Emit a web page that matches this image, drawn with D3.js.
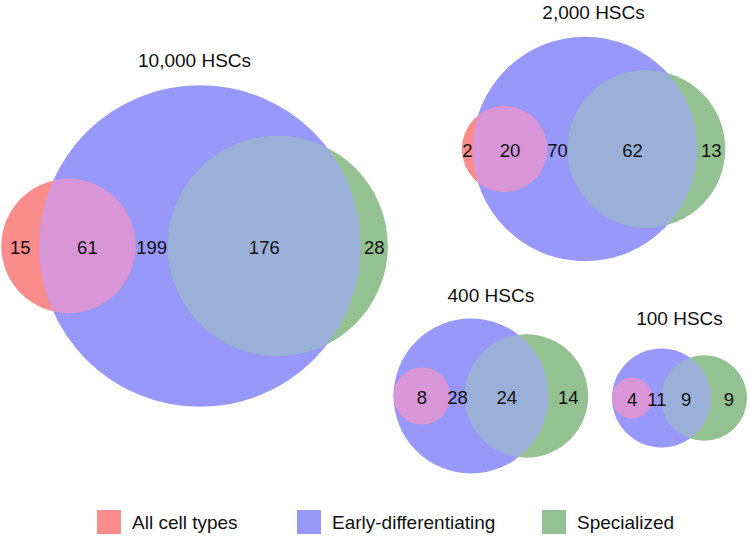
<!DOCTYPE html>
<html>
<head>
<meta charset="utf-8">
<script src="https://cdn.jsdelivr.net/npm/d3@7"></script>
<style>
  html, body { margin: 0; padding: 0; background: #fff; }
  svg { display: block; }
  text { font-family: "Liberation Sans", Arial, Helvetica, sans-serif; fill: #111; }
</style>
</head>
<body>
<svg id="chart" width="750" height="538"></svg>
<script>
// ---- data ----
const panels     = ["10,000 HSCs", "2,000 HSCs", "400 HSCs", "100 HSCs"];
const allOnly    = [15, 2, 0, 0];      // All cell types only
const allEarly   = [61, 20, 8, 4];     // All ∩ Early
const earlyOnly  = [199, 70, 28, 11];  // Early only
const earlySpec  = [176, 62, 24, 9];   // Early ∩ Specialized
const specOnly   = [28, 13, 14, 9];    // Specialized only
const setNames   = ["All cell types", "Early-differentiating", "Specialized"];

// ---- layout (positions / sizes / styles) ----
const layout = [
  { cx: 200,   cy: 246, k: 7.7,  titleY: 60,  redAdj: 8, greenAdj: -6 },
  { cx: 585,   cy: 149, k: 9.1,  titleY: 12,  redAdj: 0, greenAdj: 0 },
  { cx: 471,   cy: 396, k: 10.0, titleY: 295, redAdj: 0, greenAdj: 0 },
  { cx: 661.5, cy: 398, k: 10.1, titleY: 318, redAdj: 0, greenAdj: 0 }
];
const colors = { red: "#fa8c8c", blue: "#9898fa", green: "#94c191",
                 redBlue: "#d896d8", greenBlue: "#9ab0d8" };
const legendX = [97, 297, 542];

const svg = d3.select("#chart");
svg.append("rect").attr("width", 750).attr("height", 538).attr("fill", "#fff");
const defs = svg.append("defs");

function interArea(r1, r2, d) {
  if (d >= r1 + r2) return 0;
  if (d <= Math.abs(r1 - r2)) return Math.PI * Math.min(r1, r2) ** 2;
  const a = r1 * r1 * Math.acos((d * d + r1 * r1 - r2 * r2) / (2 * d * r1));
  const b = r2 * r2 * Math.acos((d * d + r2 * r2 - r1 * r1) / (2 * d * r2));
  const c = 0.5 * Math.sqrt((-d + r1 + r2) * (d + r1 - r2) * (d - r1 + r2) * (d + r1 + r2));
  return a + b - c;
}
function solveDist(r1, r2, target) {
  let lo = Math.abs(r1 - r2), hi = r1 + r2;
  if (target >= Math.PI * Math.min(r1, r2) ** 2 - 1e-9) return lo;
  for (let i = 0; i < 80; i++) {
    const m = (lo + hi) / 2;
    if (interArea(r1, r2, m) > target) lo = m; else hi = m;
  }
  return (lo + hi) / 2;
}

panels.forEach((title, i) => {
  const L = layout[i];
  const nRed = allOnly[i] + allEarly[i];
  const nBlue = allEarly[i] + earlyOnly[i] + earlySpec[i];
  const nGreen = earlySpec[i] + specOnly[i];
  const r = d3.scaleSqrt().domain([0, 100]).range([0, L.k * 10]);
  const rr = r(nRed), rb = r(nBlue), rg = r(nGreen);
  const area = n => Math.PI * r(n) ** 2;
  const dRed = solveDist(rb, rr, area(allEarly[i])) + L.redAdj;
  const dGreen = solveDist(rb, rg, area(earlySpec[i])) + L.greenAdj;
  const xb = L.cx, xr = L.cx - dRed, xg = L.cx + dGreen, cy = L.cy;

  const g = svg.append("g");
  const clipId = "clipBlue" + i;
  defs.append("clipPath").attr("id", clipId)
    .append("circle").attr("cx", xb).attr("cy", cy).attr("r", rb);

  g.append("circle").attr("cx", xb).attr("cy", cy).attr("r", rb).attr("fill", colors.blue);
  g.append("circle").attr("cx", xr).attr("cy", cy).attr("r", rr).attr("fill", colors.red);
  g.append("circle").attr("cx", xg).attr("cy", cy).attr("r", rg).attr("fill", colors.green);
  g.append("circle").attr("cx", xr).attr("cy", cy).attr("r", rr)
    .attr("fill", colors.redBlue).attr("clip-path", `url(#${clipId})`);
  g.append("circle").attr("cx", xg).attr("cy", cy).attr("r", rg)
    .attr("fill", colors.greenBlue).attr("clip-path", `url(#${clipId})`);

  const redL = xr - rr, redR = xr + rr, blueL = xb - rb, blueR = xb + rb;
  const greenL = xg - rg, greenR = xg + rg;
  const labels = [
    { v: allOnly[i],   x: (redL + blueL) / 2 },
    { v: allEarly[i],  x: (Math.max(redL, blueL) + Math.min(redR, blueR)) / 2 },
    { v: earlyOnly[i], x: (redR + greenL) / 2 },
    { v: earlySpec[i], x: (greenL + blueR) / 2 },
    { v: specOnly[i],  x: (blueR + greenR) / 2 }
  ].filter(d => d.v > 0);

  g.selectAll("text.num").data(labels).join("text")
    .attr("class", "num")
    .attr("x", d => d.x).attr("y", cy + 1.5)
    .attr("text-anchor", "middle").attr("dominant-baseline", "central")
    .attr("font-size", 18.5)
    .text(d => d.v);

  const left = Math.min(redL, blueL), right = Math.max(blueR, greenR);
  g.append("text")
    .attr("x", (left + right) / 2).attr("y", L.titleY)
    .attr("text-anchor", "middle").attr("dominant-baseline", "central")
    .attr("font-size", 19)
    .text(title);
});

// ---- legend ----
const legColors = [colors.red, colors.blue, colors.green];
const leg = svg.append("g");
setNames.forEach((name, j) => {
  leg.append("rect").attr("x", legendX[j]).attr("y", 510).attr("width", 24).attr("height", 24)
    .attr("fill", legColors[j]);
  leg.append("text").attr("x", legendX[j] + 35).attr("y", 522)
    .attr("dominant-baseline", "central").attr("font-size", 19)
    .text(name);
});
</script>
</body>
</html>
